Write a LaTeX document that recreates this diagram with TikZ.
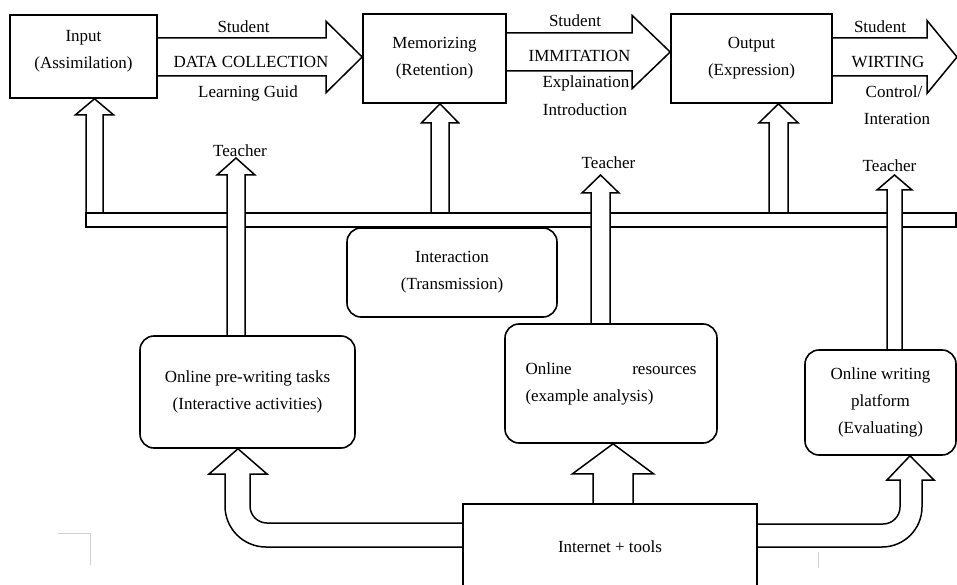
\documentclass[tikz,border=0pt]{standalone}
\usepackage{fontspec}
\setmainfont{Liberation Serif}
\usetikzlibrary{calc}
\pgfdeclarelayer{bg}
\pgfsetlayers{bg,main}
\newcommand\txt{\fontsize{17}{27}\selectfont}
\tikzset{
  fat/.style={draw, line width=1.5pt, fill=white, line join=miter},
  sqbox/.style={draw, line width=1.6pt, rectangle, inner sep=0pt, align=center, font=\txt},
  rbox/.style={sqbox, rounded corners=14pt},
  lab/.style={inner sep=0pt, font=\txt, align=center},
}
% vertical fat arrow: start, tip, shaft half width, head half width, head length
\newcommand\vfat[5]{\draw[fat] let \p1=#1, \p2=#2 in
  (\x1-#3,\y1) -- (\x1-#3,\y2-#5) -- (\x1-#4,\y2-#5) -- (\x1,\y2)
  -- (\x1+#4,\y2-#5) -- (\x1+#3,\y2-#5) -- (\x1+#3,\y1);}
% horizontal fat arrow: start, tip
\newcommand\hfat[5]{\draw[fat] let \p1=#1, \p2=#2 in
  (\x1,\y1+#3) -- (\x2-#5,\y1+#3) -- (\x2-#5,\y1+#4) -- (\x2,\y1)
  -- (\x2-#5,\y1-#4) -- (\x2-#5,\y1-#3) -- (\x1,\y1-#3);}
\begin{document}
\begin{tikzpicture}[x=1pt,y=-1pt]
\useasboundingbox (0,0) rectangle (957,585);
\clip (0,0) rectangle (957,585);

% boxes
\node[sqbox, minimum width=147pt, minimum height=83pt] (in) at (83.5,56.5) {};
\node[lab] (inT) at (83.5,51) {Input\\(Assimilation)};
\node[sqbox, minimum width=143pt, minimum height=89pt] (mem) at (434.5,58.5) {Memorizing\\(Retention)};
\node[sqbox, minimum width=161pt, minimum height=89pt] (out) at (751.5,58.5) {Output\\(Expression)};
\node[inner sep=0pt, minimum width=870pt, minimum height=14pt] (bar) at (521,220) {};
\node[rbox, minimum width=210pt, minimum height=89pt] (inter) at (452,272.5) {Interaction\\(Transmission)};
\node[rbox, minimum width=215pt, minimum height=112pt] (pre) at (247.5,392) {Online pre-writing tasks\\(Interactive activities)};
\node[rbox, minimum width=212pt, minimum height=119pt, align=left] (res) at (611,383.5) {\hbox to 171pt{Online\hfill resources}\\(example analysis)};
\node[rbox, minimum width=151pt, minimum height=105pt] (eval) at (880.5,402.5) {Online writing\\platform\\(Evaluating)};
\node[sqbox, minimum width=294pt, minimum height=86pt] (net) at (610,547) {Internet + tools};

% labels
\node[lab] (s1) at (243.5,27) {Student};
\node[lab] (dc) at (251,62) {DATA COLLECTION};
\node[lab] (lg) at (248,93) {Learning Guid};
\node[lab] (s2) at (575,21) {Student};
\node[lab] (im) at (579.5,56) {IMMITATION};
\node[lab] (ex) at (586,83) {Explaination};
\node[lab] (intro) at (585,110) {Introduction};
\node[lab] (s3) at (880,27) {Student};
\node[lab] (wr) at (888,62) {WIRTING};
\node[lab] (co) at (894,92) {Control/};
\node[lab] (it) at (897,119) {Interation};
\node[lab] (te1) at (240,151) {Teacher};
\node[lab] (te2) at (608.5,163) {Teacher};
\node[lab] (te3) at (889.5,166) {Teacher};

% helper coordinates
\coordinate (c1) at (94.5,0);
\coordinate (c2) at (440,0);
\coordinate (c3) at (778.5,0);
\coordinate (c4) at (613,0);
\coordinate (tt1) at (236,158);
\coordinate (tt2) at (600.5,175);
\coordinate (tt3) at (894.5,175);
\coordinate (r1) at (0,57);
\coordinate (r2) at (0,52);
\coordinate (tip3) at (957,57);
\coordinate (h1) at (0,523);
\coordinate (h2) at (0,547);
\coordinate (h3) at (0,524);
\coordinate (ta) at (238,0);
\coordinate (tb) at (910,0);

\begin{pgfonlayer}{bg}
  % arrows from the bar up to the top boxes
  \vfat{(bar.north -| c1)}{(in.south -| c1)}{8.5pt}{19pt}{16pt}
  \vfat{(bar.north -| c2)}{(mem.south -| c2)}{9pt}{18.5pt}{19pt}
  \vfat{(bar.north -| c3)}{(out.south -| c3)}{9.5pt}{19.5pt}{19pt}
  % the bar
  \draw[fat] (bar.north west) rectangle (bar.south east);
  % teacher arrows
  \vfat{(pre.north -| tt1)}{(tt1)}{9pt}{19pt}{17pt}
  \vfat{(res.north -| tt2)}{(tt2)}{9.5pt}{18.5pt}{18pt}
  \vfat{(eval.north -| tt3)}{(tt3)}{7.5pt}{17.5pt}{15pt}
  % horizontal process arrows
  \hfat{(in.east |- r1)}{(mem.west |- r1)}{19pt}{35.5pt}{36pt}
  \hfat{(mem.east |- r2)}{(out.west |- r2)}{19pt}{36.5pt}{38pt}
  \hfat{(out.east |- r1)}{(tip3)}{19pt}{36.5pt}{30pt}
  % bottom arrows
  \vfat{(net.north -| c4)}{(res.south -| c4)}{20pt}{40.5pt}{30pt}
  \draw[fat] (net.west |- h1) -- (267,523) arc[start angle=270,end angle=180,radius=17pt]
    -- (250,474) -- (267,474) -- (pre.south -| ta) -- (209,474) -- (225,474)
    -- (225,506) arc[start angle=180,end angle=270,radius=41pt] -- (net.west |- h2);
  \draw[fat] (net.east |- h3) -- (883,524) arc[start angle=270,end angle=360,radius=17pt]
    -- (900,480) -- (887,480) -- (eval.south -| tb) -- (934,480) -- (922,480)
    -- (922,507) arc[start angle=0,end angle=-90,radius=40pt] -- (net.east |- h2);
\end{pgfonlayer}

% faint crop marks
\draw[gray!35, line width=0.8pt] (58,533) -- (90,533) -- (90,565);
\draw[gray!35, line width=0.8pt] (818,552) -- (818,568);
\end{tikzpicture}
\end{document}
